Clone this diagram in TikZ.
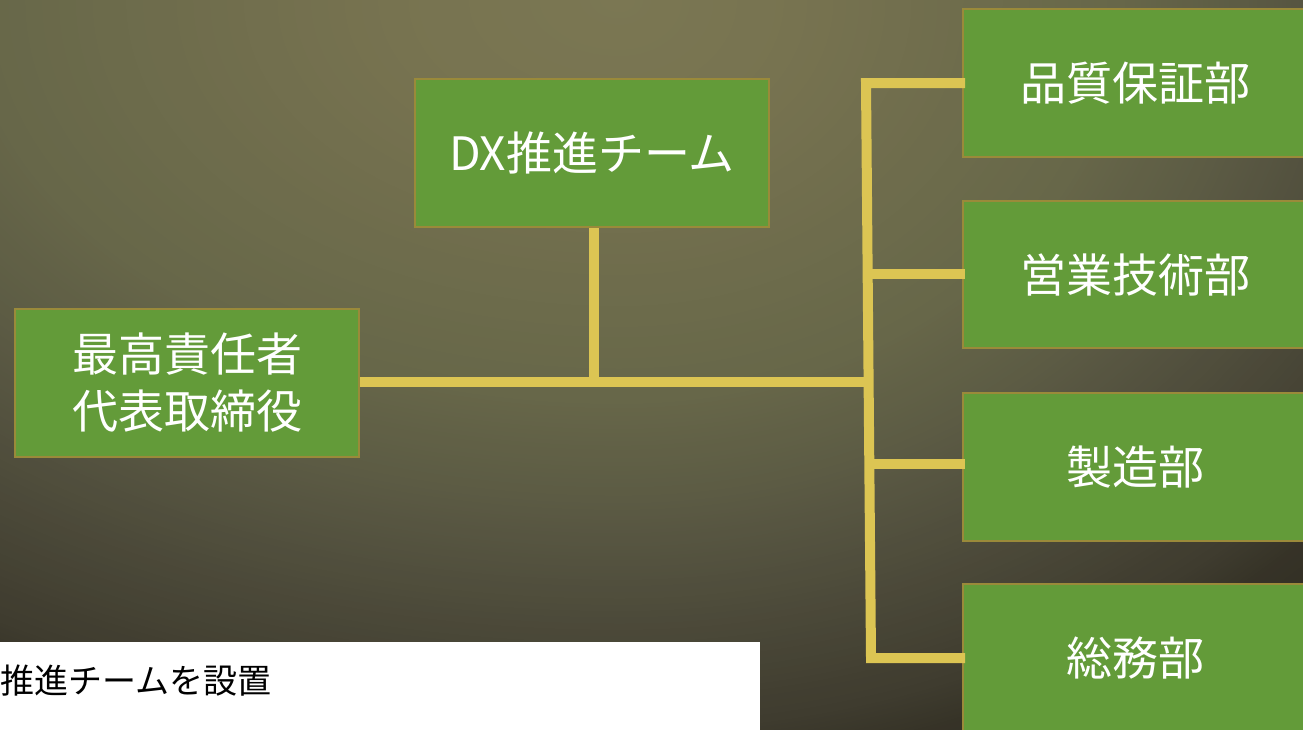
\documentclass[tikz,border=0pt]{standalone}
\usepackage{fontspec}
\newfontfamily\jp{Noto Sans CJK JP}
\definecolor{bgA}{HTML}{7B7753}
\definecolor{bgB}{HTML}{777350}
\definecolor{bgC}{HTML}{676749}
\definecolor{bgD}{HTML}{5C5B44}
\definecolor{bgE}{HTML}{52503E}
\definecolor{bgF}{HTML}{3F3C2F}
\definecolor{bgG}{HTML}{363327}
\definecolor{bgH}{HTML}{2B2820}
\definecolor{boxfill}{HTML}{639B39}
\definecolor{boxline}{HTML}{9A8A3A}
\definecolor{conn}{HTML}{DCC553}
\newcommand\glowrings[1]{%
  \foreach \da/\db/\ca/\cb in {770/900/bgG/bgH, 730/770/bgF/bgG, 580/730/bgE/bgF, 500/580/bgD/bgE, 400/500/bgC/bgD, 150/400/bgB/bgC, 0/150/bgA/bgB}{
    \foreach \k in {24,23,...,0}{
      \pgfmathsetmacro\rr{\da+(\db-\da)*\k/24}
      \pgfmathsetmacro\rx{\rr/#1}
      \pgfmathsetmacro\pp{100*\k/24}
      \fill[\cb!\pp!\ca] (620,0) ellipse (\rx pt and \rr pt);
    }
  }}
\tikzset{
  orgbox/.style={draw=boxline, fill=boxfill, line width=2pt, inner sep=0pt,
    minimum width=344pt, minimum height=148pt, text=white,
    font=\jp\fontsize{46}{57}\selectfont, align=center},
  link/.style={draw=conn, line width=10pt}
}
\begin{document}
\begin{tikzpicture}[x=1pt,y=-1pt]
\useasboundingbox (0,0) rectangle (1303,729);
\begin{scope}
\clip (0,0) rectangle (1303,729);
\fill[bgH] (0,0) rectangle (1303,729);
% background glow: elliptical rings, outer to inner
\begin{scope}
\clip (0,0) rectangle (621,729);
\glowrings{0.62}
\end{scope}
\begin{scope}
\clip (620,0) rectangle (1303,729);
\glowrings{0.8}
\end{scope}
% coordinates for connectors
\coordinate (j) at (594,382);
\coordinate (bm) at (868.6,382);
\coordinate (bq) at (866,83);
\coordinate (be) at (867.7,274);
\coordinate (bs) at (869.3,464);
\coordinate (bg) at (871,658);
% boxes
\node[orgbox] (top) at (187,383) {最高責任者\\代表取締役};
\node[orgbox, minimum width=354pt] (dx) at (592,153) {DX推進チーム};
\node[orgbox] (q) at (1135,83) {品質保証部};
\node[orgbox, minimum height=147pt] (e) at (1135,274.5) {営業技術部};
\node[orgbox] (s) at (1135,467) {製造部};
\node[orgbox] (g) at (1135,658) {総務部};
% connectors
\draw[link] (top.east |- bm) -- (bm);
\draw[link] (dx.south -| j) -- (j);
\draw[link, line join=miter] ([xshift=3pt]q.west |- bq) -- (bq) -- (bg) -- ([xshift=3pt]g.west |- bg);
\draw[link] (be) -- ([xshift=3pt]e.west |- be);
\draw[link] (bs) -- ([xshift=3pt]s.west |- bs);
% white panel
\fill[white] (0,642) rectangle (760,740);
\node[anchor=base west, inner sep=0pt, font=\jp\fontsize{34}{40}\selectfont, text=black] (cap) at (0,693) {推進チームを設置};
\end{scope}
\end{tikzpicture}
\end{document}
